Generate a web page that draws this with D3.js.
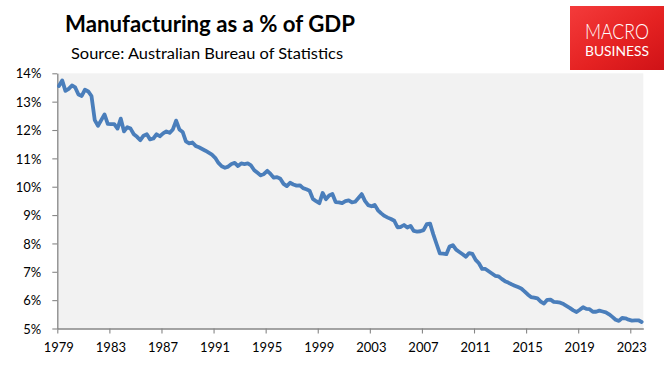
<!DOCTYPE html>
<html>
<head>
<meta charset="utf-8">
<script src="https://cdn.jsdelivr.net/npm/d3@7"></script>
<style>
  html, body { margin: 0; padding: 0; background: #ffffff; }
  svg { display: block; }
</style>
</head>
<body>
<svg id="chart" width="667" height="366"></svg>
<script>
// ---- DATA (quarterly, 1979 Q1 .. 2023 Q4), manufacturing share of GDP, % ----
const startYear = 1979;
const values = [
  13.55, 13.75, 13.38, 13.45,   // 1979
  13.57, 13.50, 13.25, 13.20,   // 1980
  13.42, 13.36, 13.20, 12.35,   // 1981
  12.15, 12.35, 12.55, 12.22,   // 1982
  12.21, 12.21, 12.05, 12.40,   // 1983
  11.95, 12.10, 12.05, 11.85,   // 1984
  11.76, 11.64, 11.80, 11.85,   // 1985
  11.67, 11.70, 11.85, 11.78,   // 1986
  11.88, 11.95, 11.90, 12.02,   // 1987
  12.33, 12.02, 11.93, 11.60,   // 1988
  11.53, 11.56, 11.44, 11.39,   // 1989
  11.33, 11.27, 11.20, 11.13,   // 1990
  11.02, 10.84, 10.72, 10.67,   // 1991
  10.71, 10.80, 10.84, 10.73,   // 1992
  10.82, 10.80, 10.82, 10.75,   // 1993
  10.58, 10.49, 10.40, 10.45,   // 1994
  10.56, 10.45, 10.32, 10.34,   // 1995
  10.28, 10.10, 10.02, 10.14,   // 1996
  10.08, 10.04, 10.05, 9.95,    // 1997
  9.91, 9.86, 9.57, 9.49,       // 1998
  9.42, 9.78, 9.56, 9.69,       // 1999
  9.74, 9.46, 9.45, 9.42,       // 2000
  9.49, 9.52, 9.45, 9.47,       // 2001
  9.60, 9.74, 9.50, 9.35,       // 2002
  9.31, 9.36, 9.17, 9.06,       // 2003
  8.97, 8.91, 8.86, 8.80,       // 2004
  8.57, 8.58, 8.65, 8.56,       // 2005
  8.62, 8.44, 8.42, 8.43,       // 2006
  8.47, 8.68, 8.70, 8.32,       // 2007
  7.98, 7.65, 7.64, 7.62,       // 2008
  7.89, 7.94, 7.78, 7.70,       // 2009
  7.62, 7.53, 7.66, 7.63,       // 2010
  7.42, 7.30, 7.10, 7.10,       // 2011
  7.02, 6.94, 6.86, 6.84,       // 2012
  6.75, 6.67, 6.62, 6.56,       // 2013
  6.51, 6.46, 6.41, 6.31,       // 2014
  6.20, 6.11, 6.09, 6.06,       // 2015
  5.95, 5.88, 6.01, 6.02,       // 2016
  5.94, 5.93, 5.91, 5.86,       // 2017
  5.79, 5.72, 5.64, 5.58,       // 2018
  5.66, 5.75, 5.69, 5.68,       // 2019
  5.59, 5.59, 5.63, 5.60,       // 2020
  5.57, 5.50, 5.41, 5.31,       // 2021
  5.27, 5.37, 5.36, 5.31,       // 2022
  5.28, 5.29, 5.29, 5.23        // 2023
];
const categories = values.map((v, i) => (startYear + Math.floor(i / 4)) + "-Q" + (i % 4 + 1));
const xTickLabels = ["1979","1983","1987","1991","1995","1999","2003","2007","2011","2015","2019","2023"];
const yTickValues = [5, 6, 7, 8, 9, 10, 11, 12, 13, 14];
const titleText = "Manufacturing as a % of GDP";
const subtitleText = "Source: Australian Bureau of Statistics";

// ---- LAYOUT ----
const svg = d3.select("#chart");
const plot = { left: 57.3, right: 643.3, top: 73.3, bottom: 328.5 };
const axisColor = "#868686";
const lineColor = "#4a7ebb";
const font = "Lato, 'Open Sans', 'Liberation Sans', sans-serif";

const x = d3.scaleLinear().domain([0, categories.length]).range([plot.left, plot.right]);
const y = d3.scaleLinear().domain([5, 14]).range([plot.bottom, plot.top]);

// plot background
svg.append("rect")
  .attr("x", plot.left).attr("y", plot.top)
  .attr("width", plot.right - plot.left).attr("height", plot.bottom - plot.top)
  .attr("fill", "#f2f2f2");

// Y axis
const yAxis = d3.axisLeft(y).tickValues(yTickValues).tickFormat(d => d + "%").tickSize(5).tickSizeOuter(0);
const gy = svg.append("g").attr("transform", `translate(${plot.left},0)`).call(yAxis);
gy.select(".domain").attr("stroke", axisColor).attr("stroke-width", 1.3);
gy.selectAll(".tick line").attr("stroke", axisColor).attr("stroke-width", 1.1);
gy.selectAll(".tick text")
  .attr("x", -16)
  .attr("dy", "0.36em")
  .attr("fill", "#000")
  .style("font-family", font)
  .style("font-size", "13px");

// X axis
const tickIdx = xTickLabels.map(l => categories.indexOf(l + "-Q1"));
const xAxis = d3.axisBottom(x).tickValues(tickIdx)
  .tickFormat(d => categories[d].slice(0, 4)).tickSize(5).tickSizeOuter(0);
const gx = svg.append("g").attr("transform", `translate(0,${plot.bottom})`).call(xAxis);
gx.select(".domain").attr("stroke", axisColor).attr("stroke-width", 1.3);
gx.selectAll(".tick line").attr("stroke", axisColor).attr("stroke-width", 1.1);
gx.selectAll(".tick text")
  .attr("y", 14)
  .attr("x", 1)
  .attr("dy", "0.71em")
  .attr("fill", "#000")
  .style("font-family", font)
  .style("font-size", "13px");

// line
const line = d3.line()
  .x((d, i) => x(i + 0.5))
  .y(d => y(d))
  .curve(d3.curveLinear);
svg.append("path")
  .datum(values)
  .attr("d", line)
  .attr("fill", "none")
  .attr("stroke", lineColor)
  .attr("stroke-width", 3.8)
  .attr("stroke-linejoin", "round")
  .attr("stroke-linecap", "round");

// title & subtitle
svg.append("text")
  .attr("x", 65).attr("y", 32)
  .attr("textLength", 290).attr("lengthAdjust", "spacingAndGlyphs")
  .style("font-family", font).style("font-weight", "bold").style("font-size", "22px")
  .attr("fill", "#000")
  .text(titleText);
svg.append("text")
  .attr("x", 71).attr("y", 59)
  .attr("textLength", 272).attr("lengthAdjust", "spacingAndGlyphs")
  .style("font-family", font).style("font-size", "15.5px")
  .attr("fill", "#000")
  .text(subtitleText);

// logo
const defs = svg.append("defs");
const grad = defs.append("linearGradient").attr("id", "logoGrad")
  .attr("x1", "0%").attr("y1", "0%").attr("x2", "100%").attr("y2", "100%");
grad.append("stop").attr("offset", "0%").attr("stop-color", "#f43b3b");
grad.append("stop").attr("offset", "55%").attr("stop-color", "#e52222");
grad.append("stop").attr("offset", "100%").attr("stop-color", "#cf1217");
svg.append("rect")
  .attr("x", 570).attr("y", 6).attr("width", 94).attr("height", 64)
  .attr("fill", "url(#logoGrad)");
svg.append("text")
  .attr("x", 585).attr("y", 39)
  .attr("textLength", 64).attr("lengthAdjust", "spacingAndGlyphs")
  .style("font-family", "Lato, 'Liberation Sans', sans-serif").style("font-weight", 300).style("font-size", "22px")
  .attr("fill", "#fff")
  .text("MACRO");
svg.append("text")
  .attr("x", 585).attr("y", 56)
  .attr("textLength", 64).attr("lengthAdjust", "spacingAndGlyphs")
  .style("font-family", "Lato, 'Liberation Sans', sans-serif").style("font-weight", 400).style("font-size", "12.5px")
  .attr("fill", "#fff")
  .text("BUSINESS");
</script>
</body>
</html>
